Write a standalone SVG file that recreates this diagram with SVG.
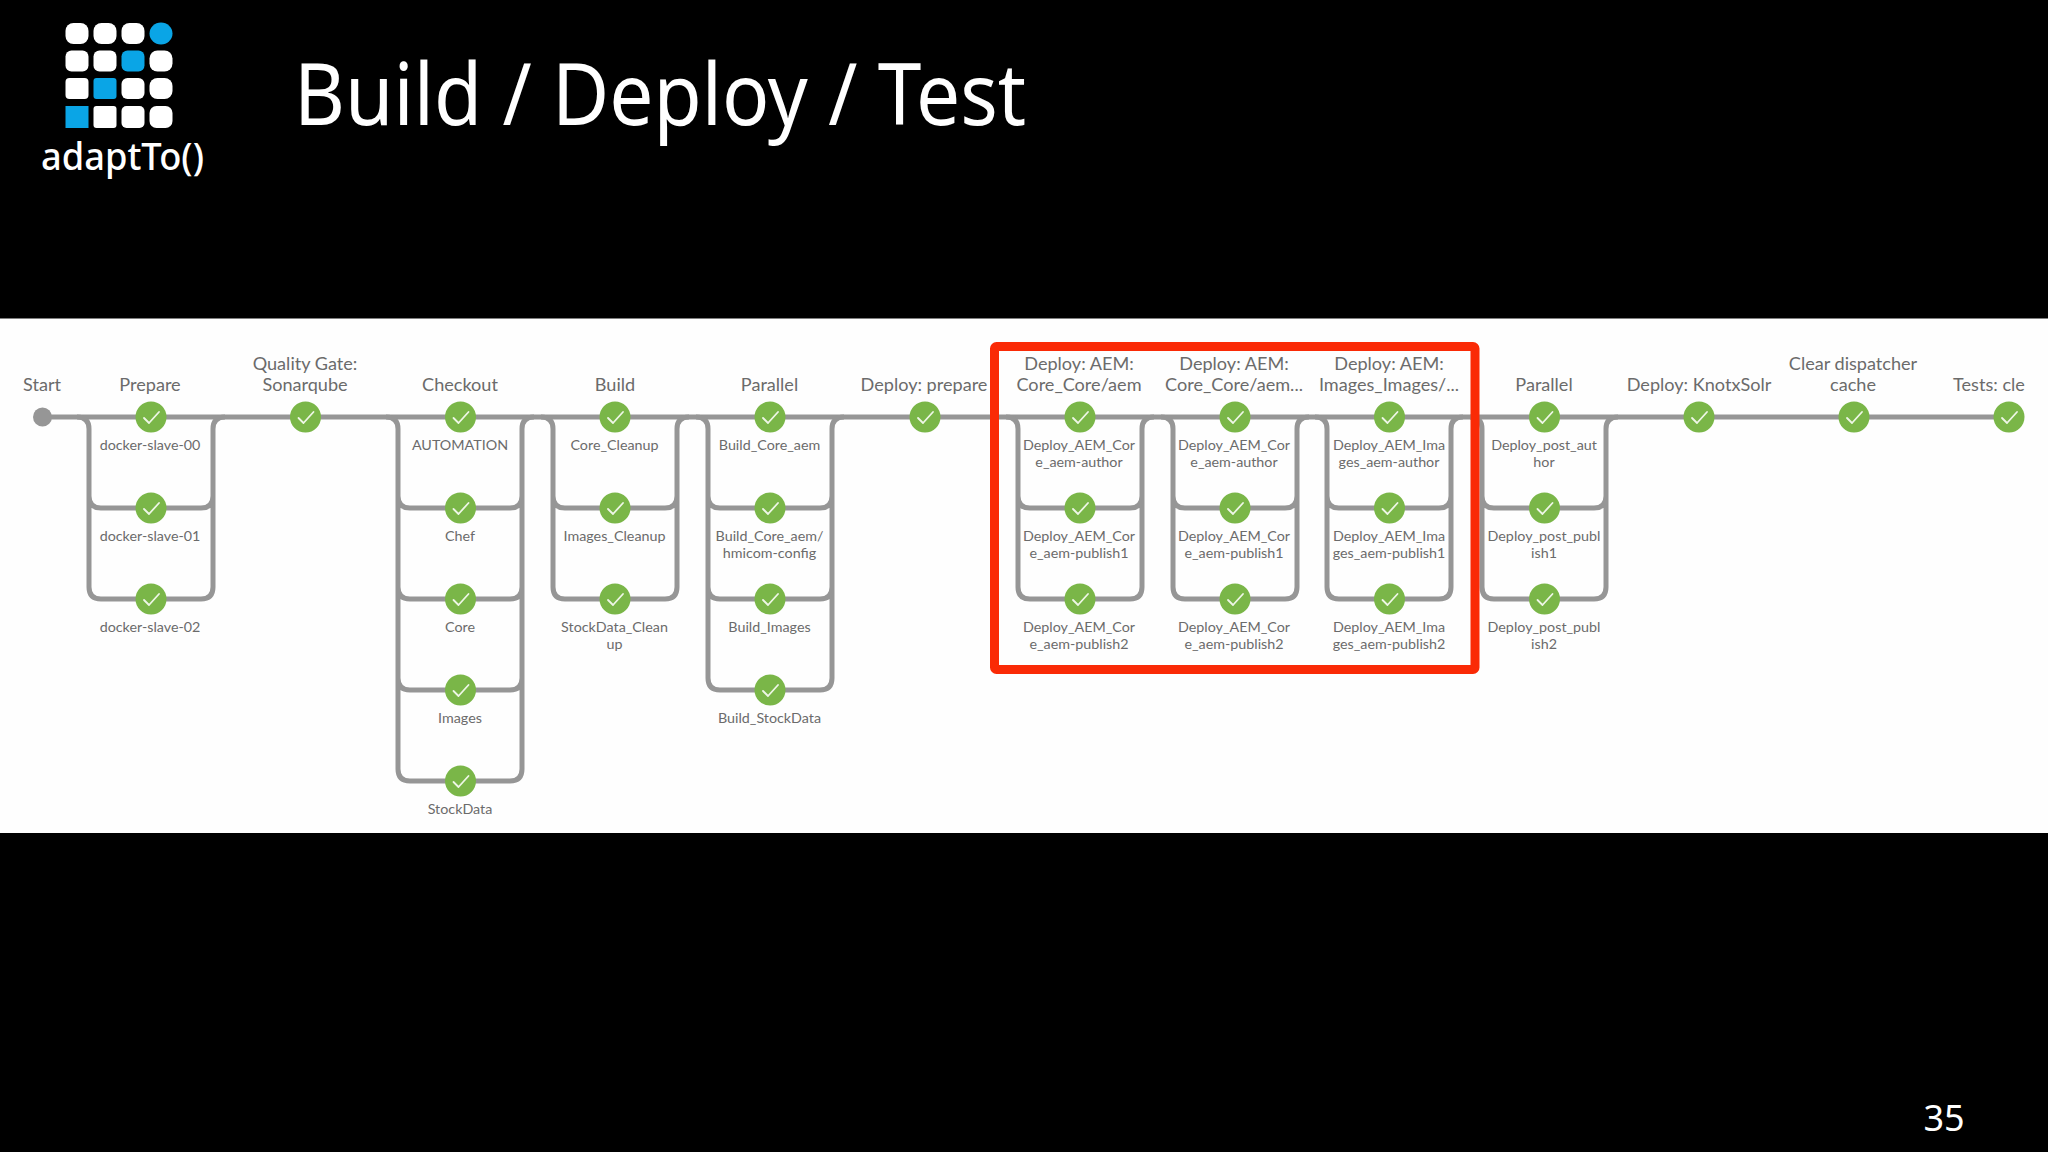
<svg xmlns="http://www.w3.org/2000/svg" width="2048" height="1152" viewBox="0 0 2048 1152">
<style>
.c{fill:none;stroke:#969696;stroke-width:5}
.n{fill:#7ab648}
.k{fill:none;stroke:#eef6e6;stroke-width:1.800;stroke-linecap:round;stroke-linejoin:round}
.t{font-family:Lato,"Open Sans",sans-serif;font-size:18.100px;fill:#6b6b6b;text-anchor:middle}
.s{font-family:Lato,"Open Sans",sans-serif;font-size:14.300px;fill:#6b6b6b;text-anchor:middle}
.w{fill:#fff}.b{fill:#0aa5e6}
.h{font-family:"Noto Sans",sans-serif;fill:#fff}
</style>
<defs>
<g id="ok"><circle class="n" r="15.5"/><path class="k" d="M-7,1L-2,6L8,-5"/></g>
</defs>
<rect width="2048" height="1152" fill="#000"/>
<rect y="318.500" width="2048" height="514.500" fill="#fefefe"/>
<g id="logo">
<rect class="w" x="65.5" y="23" width="23" height="21" rx="8"/><rect class="w" x="93.5" y="23" width="23" height="21" rx="8"/><rect class="w" x="121.5" y="23" width="23" height="21" rx="8"/><ellipse class="b" cx="161" cy="33.5" rx="11.5" ry="11"/>
<rect class="w" x="65.5" y="50.5" width="23" height="21" rx="6"/><rect class="w" x="93.5" y="50.5" width="23" height="21" rx="6"/><rect class="b" x="121.5" y="50.5" width="23" height="21" rx="6"/><rect class="w" x="149.5" y="50.5" width="23" height="21" rx="8"/>
<rect class="w" x="65.5" y="78" width="23" height="21" rx="4"/><rect class="b" x="93.5" y="78" width="23" height="21" rx="3"/><rect class="w" x="121.5" y="78" width="23" height="21" rx="6"/><rect class="w" x="149.5" y="78" width="23" height="21" rx="8"/>
<rect class="b" x="65.5" y="106" width="23" height="22"/><rect class="w" x="93.5" y="106" width="23" height="22" rx="3"/><rect class="w" x="121.5" y="106" width="23" height="22" rx="5"/><rect class="w" x="149.5" y="106" width="23" height="22" rx="7"/>
<text class="h" x="41" y="170" font-size="38" font-weight="500" textLength="163" lengthAdjust="spacingAndGlyphs">adaptTo()</text>
</g>
<text id="title" class="h" x="294" y="125" font-size="86" textLength="732" lengthAdjust="spacingAndGlyphs">Build / Deploy / Test</text>
<text id="page" class="h" x="1944" y="1131" font-size="36" text-anchor="middle">35</text>
<g id="connectors">
<path class="c" d="M42,417H2009"/>
<path class="c" d="M77,417Q89,417 89,429V587Q89,599 101,599H201Q213,599 213,587V429Q213,417 225,417M89,496Q89,508 101,508H201Q213,508 213,496"/>
<path class="c" d="M386,417Q398,417 398,429V769Q398,781 410,781H510Q522,781 522,769V429Q522,417 534,417M398,496Q398,508 410,508H510Q522,508 522,496M398,587Q398,599 410,599H510Q522,599 522,587M398,678Q398,690 410,690H510Q522,690 522,678"/>
<path class="c" d="M541,417Q553,417 553,429V587Q553,599 565,599H665Q677,599 677,587V429Q677,417 689,417M553,496Q553,508 565,508H665Q677,508 677,496"/>
<path class="c" d="M696,417Q708,417 708,429V678Q708,690 720,690H820Q832,690 832,678V429Q832,417 844,417M708,496Q708,508 720,508H820Q832,508 832,496M708,587Q708,599 720,599H820Q832,599 832,587"/>
<path class="c" d="M1006,417Q1018,417 1018,429V587Q1018,599 1030,599H1130Q1142,599 1142,587V429Q1142,417 1154,417M1018,496Q1018,508 1030,508H1130Q1142,508 1142,496"/>
<path class="c" d="M1161,417Q1173,417 1173,429V587Q1173,599 1185,599H1285Q1297,599 1297,587V429Q1297,417 1309,417M1173,496Q1173,508 1185,508H1285Q1297,508 1297,496"/>
<path class="c" d="M1315,417Q1327,417 1327,429V587Q1327,599 1339,599H1439Q1451,599 1451,587V429Q1451,417 1463,417M1327,496Q1327,508 1339,508H1439Q1451,508 1451,496"/>
<path class="c" d="M1470,417Q1482,417 1482,429V587Q1482,599 1494,599H1594Q1606,599 1606,587V429Q1606,417 1618,417M1482,496Q1482,508 1494,508H1594Q1606,508 1606,496"/>
</g>
<g id="start"><circle cx="42.500" cy="417" r="9.500" fill="#969696"/><text class="t" x="42" y="391">Start</text></g>
<g id="prepare"><text class="t" x="150" y="391">Prepare</text><use href="#ok" x="151" y="417"/><use href="#ok" x="151" y="508"/><use href="#ok" x="151" y="599"/>
<text class="s" x="150" y="450">docker-slave-00</text><text class="s" x="150" y="541">docker-slave-01</text><text class="s" x="150" y="632">docker-slave-02</text></g>
<g id="sonarqube"><text class="t" x="305" y="370">Quality Gate:</text><text class="t" x="305" y="391">Sonarqube</text><use href="#ok" x="305.500" y="417"/></g>
<g id="checkout"><text class="t" x="460" y="391">Checkout</text><use href="#ok" x="460.500" y="417"/><use href="#ok" x="460.500" y="508"/><use href="#ok" x="460.500" y="599"/><use href="#ok" x="460.500" y="690"/><use href="#ok" x="460.500" y="781"/>
<text class="s" x="460" y="450">AUTOMATION</text><text class="s" x="460" y="541">Chef</text><text class="s" x="460" y="632">Core</text><text class="s" x="460" y="723">Images</text><text class="s" x="460" y="814">StockData</text></g>
<g id="build"><text class="t" x="615" y="391">Build</text><use href="#ok" x="615" y="417"/><use href="#ok" x="615" y="508"/><use href="#ok" x="615" y="599"/>
<text class="s" x="614.500" y="450">Core_Cleanup</text><text class="s" x="614.500" y="541">Images_Cleanup</text><text class="s" x="614.500" y="632">StockData_Clean</text><text class="s" x="614.500" y="649">up</text></g>
<g id="parallel1"><text class="t" x="769.500" y="391">Parallel</text><use href="#ok" x="770" y="417"/><use href="#ok" x="770" y="508"/><use href="#ok" x="770" y="599"/><use href="#ok" x="770" y="690"/>
<text class="s" x="769.500" y="450">Build_Core_aem</text><text class="s" x="769.500" y="541">Build_Core_aem/</text><text class="s" x="769.500" y="558">hmicom-config</text><text class="s" x="769.500" y="632">Build_Images</text><text class="s" x="769.500" y="723">Build_StockData</text></g>
<g id="deploy-prepare"><text class="t" x="924" y="391">Deploy: prepare</text><use href="#ok" x="925" y="417"/></g>
<g id="deploy-core-1"><text class="t" x="1079" y="370">Deploy: AEM:</text><text class="t" x="1079" y="391">Core_Core/aem</text><use href="#ok" x="1080" y="417"/><use href="#ok" x="1080" y="508"/><use href="#ok" x="1080" y="599"/>
<text class="s" x="1079" y="450">Deploy_AEM_Cor</text><text class="s" x="1079" y="467">e_aem-author</text><text class="s" x="1079" y="541">Deploy_AEM_Cor</text><text class="s" x="1079" y="558">e_aem-publish1</text><text class="s" x="1079" y="632">Deploy_AEM_Cor</text><text class="s" x="1079" y="649">e_aem-publish2</text></g>
<g id="deploy-core-2"><text class="t" x="1234" y="370">Deploy: AEM:</text><text class="t" x="1234" y="391">Core_Core/aem...</text><use href="#ok" x="1235" y="417"/><use href="#ok" x="1235" y="508"/><use href="#ok" x="1235" y="599"/>
<text class="s" x="1234" y="450">Deploy_AEM_Cor</text><text class="s" x="1234" y="467">e_aem-author</text><text class="s" x="1234" y="541">Deploy_AEM_Cor</text><text class="s" x="1234" y="558">e_aem-publish1</text><text class="s" x="1234" y="632">Deploy_AEM_Cor</text><text class="s" x="1234" y="649">e_aem-publish2</text></g>
<g id="deploy-images"><text class="t" x="1389" y="370">Deploy: AEM:</text><text class="t" x="1389" y="391">Images_Images/...</text><use href="#ok" x="1389.500" y="417"/><use href="#ok" x="1389.500" y="508"/><use href="#ok" x="1389.500" y="599"/>
<text class="s" x="1389" y="450">Deploy_AEM_Ima</text><text class="s" x="1389" y="467">ges_aem-author</text><text class="s" x="1389" y="541">Deploy_AEM_Ima</text><text class="s" x="1389" y="558">ges_aem-publish1</text><text class="s" x="1389" y="632">Deploy_AEM_Ima</text><text class="s" x="1389" y="649">ges_aem-publish2</text></g>
<g id="parallel2"><text class="t" x="1544" y="391">Parallel</text><use href="#ok" x="1544.500" y="417"/><use href="#ok" x="1544.500" y="508"/><use href="#ok" x="1544.500" y="599"/>
<text class="s" x="1544" y="450">Deploy_post_aut</text><text class="s" x="1544" y="467">hor</text><text class="s" x="1544" y="541">Deploy_post_publ</text><text class="s" x="1544" y="558">ish1</text><text class="s" x="1544" y="632">Deploy_post_publ</text><text class="s" x="1544" y="649">ish2</text></g>
<g id="knotx"><text class="t" x="1699" y="391">Deploy: KnotxSolr</text><use href="#ok" x="1699" y="417"/></g>
<g id="dispatcher"><text class="t" x="1853" y="370">Clear dispatcher</text><text class="t" x="1853" y="391">cache</text><use href="#ok" x="1854" y="417"/></g>
<g id="tests"><text class="t" x="1989" y="391">Tests: cle</text><use href="#ok" x="2009" y="417"/></g>
<rect id="highlight" x="994.500" y="346.500" width="480.500" height="323" rx="2" fill="none" stroke="#fa2a06" stroke-width="9"/>
</svg>
